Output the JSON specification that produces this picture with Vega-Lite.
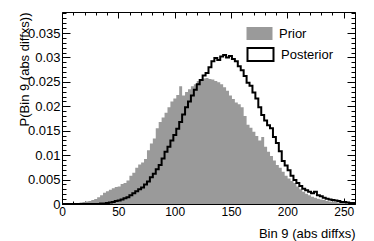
{
  "$schema": "https://vega.github.io/schema/vega-lite/v6.json",
  "width": 293,
  "height": 192,
  "autosize": {"type": "none"},
  "padding": {"left": 62, "top": 12, "right": 19, "bottom": 37},
  "background": "white",
  "config": {
    "view": {"stroke": "black", "strokeWidth": 1},
    "font": "Liberation Sans",
    "axis": {"domain": false, "grid": false, "tickColor": "black", "tickWidth": 1, "labelColor": "black", "titleColor": "black", "labelFont": "Liberation Sans", "titleFont": "Liberation Sans", "titleFontWeight": "normal", "labelOverlap": false, "labelFlush": false}
  },
  "data": {"values": [
    {"lo":0,"Prior":0,"Posterior":0},{"lo":2.6,"Prior":0,"Posterior":0},{"lo":5.2,"Prior":0,"Posterior":0},{"lo":7.8,"Prior":0,"Posterior":0},
    {"lo":10.4,"Prior":0.0001,"Posterior":0},{"lo":13,"Prior":0.0002,"Posterior":0},{"lo":15.6,"Prior":0.0003,"Posterior":0},{"lo":18.2,"Prior":0.0004,"Posterior":0},
    {"lo":20.8,"Prior":0.0005,"Posterior":0},{"lo":23.4,"Prior":0.0006,"Posterior":0},{"lo":26,"Prior":0.0008,"Posterior":0},{"lo":28.6,"Prior":0.001,"Posterior":0},
    {"lo":31.2,"Prior":0.0014,"Posterior":0},{"lo":33.8,"Prior":0.0018,"Posterior":0.0001},{"lo":36.4,"Prior":0.0023,"Posterior":0.0001},{"lo":39,"Prior":0.0026,"Posterior":0.0002},
    {"lo":41.6,"Prior":0.0029,"Posterior":0.0003},{"lo":44.2,"Prior":0.0032,"Posterior":0.0004},{"lo":46.8,"Prior":0.0035,"Posterior":0.0006},{"lo":49.4,"Prior":0.0036,"Posterior":0.0007},
    {"lo":52,"Prior":0.0041,"Posterior":0.0009},{"lo":54.6,"Prior":0.0043,"Posterior":0.0012},{"lo":57.2,"Prior":0.0048,"Posterior":0.0014},{"lo":59.8,"Prior":0.0058,"Posterior":0.0018},
    {"lo":62.4,"Prior":0.0064,"Posterior":0.0022},{"lo":65,"Prior":0.0074,"Posterior":0.0026},{"lo":67.6,"Prior":0.0081,"Posterior":0.003},{"lo":70.2,"Prior":0.0085,"Posterior":0.0034},
    {"lo":72.8,"Prior":0.0092,"Posterior":0.004},{"lo":75.4,"Prior":0.011,"Posterior":0.0046},{"lo":78,"Prior":0.0124,"Posterior":0.0055},{"lo":80.6,"Prior":0.0134,"Posterior":0.0062},
    {"lo":83.2,"Prior":0.0155,"Posterior":0.0071},{"lo":85.8,"Prior":0.0168,"Posterior":0.008},{"lo":88.4,"Prior":0.0177,"Posterior":0.0093},{"lo":91,"Prior":0.0187,"Posterior":0.0107},
    {"lo":93.6,"Prior":0.0198,"Posterior":0.0117},{"lo":96.2,"Prior":0.021,"Posterior":0.013},{"lo":98.8,"Prior":0.0216,"Posterior":0.0141},{"lo":101.4,"Prior":0.0223,"Posterior":0.0154},
    {"lo":104,"Prior":0.0241,"Posterior":0.0168},{"lo":106.6,"Prior":0.0222,"Posterior":0.0183},{"lo":109.2,"Prior":0.0229,"Posterior":0.0198},{"lo":111.8,"Prior":0.0235,"Posterior":0.021},
    {"lo":114.4,"Prior":0.0241,"Posterior":0.0222},{"lo":117,"Prior":0.0245,"Posterior":0.0234},{"lo":119.6,"Prior":0.0252,"Posterior":0.0245},{"lo":122.2,"Prior":0.0255,"Posterior":0.0254},
    {"lo":124.8,"Prior":0.0257,"Posterior":0.0263},{"lo":127.4,"Prior":0.0258,"Posterior":0.0268},{"lo":130,"Prior":0.0256,"Posterior":0.028},{"lo":132.6,"Prior":0.0255,"Posterior":0.0292},
    {"lo":135.2,"Prior":0.0252,"Posterior":0.0299},{"lo":137.8,"Prior":0.0249,"Posterior":0.0295},{"lo":140.4,"Prior":0.0245,"Posterior":0.0302},{"lo":143,"Prior":0.0239,"Posterior":0.0305},
    {"lo":145.6,"Prior":0.0232,"Posterior":0.03},{"lo":148.2,"Prior":0.0222,"Posterior":0.0303},{"lo":150.8,"Prior":0.0215,"Posterior":0.0297},{"lo":153.4,"Prior":0.0208,"Posterior":0.0292},
    {"lo":156,"Prior":0.0204,"Posterior":0.0282},{"lo":158.6,"Prior":0.0198,"Posterior":0.0274},{"lo":161.2,"Prior":0.018,"Posterior":0.0262},{"lo":163.8,"Prior":0.0162,"Posterior":0.0248},
    {"lo":166.4,"Prior":0.0156,"Posterior":0.0242},{"lo":169,"Prior":0.0148,"Posterior":0.0228},{"lo":171.6,"Prior":0.0139,"Posterior":0.0216},{"lo":174.2,"Prior":0.013,"Posterior":0.0198},
    {"lo":176.8,"Prior":0.0137,"Posterior":0.0182},{"lo":179.4,"Prior":0.0117,"Posterior":0.0171},{"lo":182,"Prior":0.0107,"Posterior":0.0161},{"lo":184.6,"Prior":0.0098,"Posterior":0.0155},
    {"lo":187.2,"Prior":0.0089,"Posterior":0.0137},{"lo":189.8,"Prior":0.008,"Posterior":0.0125},{"lo":192.4,"Prior":0.0074,"Posterior":0.0108},{"lo":195,"Prior":0.0066,"Posterior":0.0088},
    {"lo":197.6,"Prior":0.0058,"Posterior":0.0079},{"lo":200.2,"Prior":0.0052,"Posterior":0.0069},{"lo":202.8,"Prior":0.0047,"Posterior":0.0058},{"lo":205.4,"Prior":0.0043,"Posterior":0.0049},
    {"lo":208,"Prior":0.0036,"Posterior":0.0043},{"lo":210.6,"Prior":0.003,"Posterior":0.0037},{"lo":213.2,"Prior":0.0025,"Posterior":0.0031},{"lo":215.8,"Prior":0.0021,"Posterior":0.0028},
    {"lo":218.4,"Prior":0.0018,"Posterior":0.0025},{"lo":221,"Prior":0.0015,"Posterior":0.0022},{"lo":223.6,"Prior":0.0013,"Posterior":0.0025},{"lo":226.2,"Prior":0.0011,"Posterior":0.0018},
    {"lo":228.8,"Prior":0.0009,"Posterior":0.0016},{"lo":231.4,"Prior":0.0008,"Posterior":0.0013},{"lo":234,"Prior":0.0006,"Posterior":0.0011},{"lo":236.6,"Prior":0.0005,"Posterior":0.0009},
    {"lo":239.2,"Prior":0.0004,"Posterior":0.0008},{"lo":241.8,"Prior":0.0004,"Posterior":0.0007},{"lo":244.4,"Prior":0.0003,"Posterior":0.0006},{"lo":247,"Prior":0.0002,"Posterior":0.0004},
    {"lo":249.6,"Prior":0.0002,"Posterior":0.0004},{"lo":252.2,"Prior":0.0001,"Posterior":0.0003},{"lo":254.8,"Prior":0.0001,"Posterior":0.0002},{"lo":257.4,"Prior":0.0001,"Posterior":0.0002},
    {"lo":260,"Prior":0.0001,"Posterior":0.0002}
  ]},
  "transform": [{"fold": ["Prior", "Posterior"], "as": ["series", "p"]}],
  "layer": [
    {
      "transform": [{"filter": "datum.series === 'Prior'"}],
      "mark": {"type": "area", "interpolate": "step-after", "opacity": 1},
      "encoding": {
        "x": {"field": "lo", "type": "quantitative", "scale": {"domain": [0, 260], "nice": false, "zero": false},
          "axis": {"orient": "bottom", "title": "Bin 9 (abs diffxs)", "titleFontSize": 13, "titleAnchor": "end", "titleAlign": "right", "titleBaseline": "alphabetic", "titleX": 293, "titleY": 33,
            "values": [0,10,20,30,40,50,60,70,80,90,100,110,120,130,140,150,160,170,180,190,200,210,220,230,240,250,260],
            "tickSize": {"condition": {"test": "datum.value % 50 === 0", "value": -6}, "value": -3},
            "labelExpr": "datum.value % 50 === 0 ? datum.label : ''", "labelFontSize": 12, "labelPadding": 8}},
        "y": {"field": "p", "type": "quantitative", "stack": null, "scale": {"domain": [0, 0.0393], "nice": false},
          "axis": {"orient": "left", "title": "P(Bin 9 (abs diffxs))", "titleFontSize": 13, "titleAngle": -90, "titleAlign": "right", "titleBaseline": "alphabetic", "titleX": -34, "titleY": 0,
            "values": [0,0.001,0.002,0.003,0.004,0.005,0.006,0.007,0.008,0.009,0.01,0.011,0.012,0.013,0.014,0.015,0.016,0.017,0.018,0.019,0.02,0.021,0.022,0.023,0.024,0.025,0.026,0.027,0.028,0.029,0.03,0.031,0.032,0.033,0.034,0.035,0.036,0.037,0.038,0.039],
            "tickSize": {"condition": {"test": "round(datum.value*1000) % 5 === 0", "value": -8}, "value": -4},
            "labelExpr": "round(datum.value*1000) % 5 === 0 ? format(datum.value, '~g') : ''", "labelFontSize": 13, "labelPadding": 10}},
        "fill": {"field": "series", "type": "nominal", "scale": {"domain": ["Prior"], "range": ["#9a9a9a"]},
          "legend": {"orient": "none", "legendX": 191, "legendY": 15, "title": null, "symbolType": "M-2,-1H2V1H-2Z", "symbolSize": 169, "labelFontSize": 13, "labelFont": "Liberation Sans", "labelColor": "black", "labelOffset": 13, "symbolStrokeWidth": 0, "symbolOpacity": 1}}
      }
    },
    {
      "transform": [{"filter": "datum.series === 'Posterior'"}],
      "mark": {"type": "line", "interpolate": "step-after", "strokeWidth": 2},
      "encoding": {
        "x": {"field": "lo", "type": "quantitative",
          "axis": {"orient": "top", "title": null, "labels": false,
            "values": [0,10,20,30,40,50,60,70,80,90,100,110,120,130,140,150,160,170,180,190,200,210,220,230,240,250,260],
            "tickSize": {"condition": {"test": "datum.value % 50 === 0", "value": -6}, "value": -3}}},
        "y": {"field": "p", "type": "quantitative",
          "axis": {"orient": "right", "title": null, "labels": false,
            "values": [0,0.001,0.002,0.003,0.004,0.005,0.006,0.007,0.008,0.009,0.01,0.011,0.012,0.013,0.014,0.015,0.016,0.017,0.018,0.019,0.02,0.021,0.022,0.023,0.024,0.025,0.026,0.027,0.028,0.029,0.03,0.031,0.032,0.033,0.034,0.035,0.036,0.037,0.038,0.039],
            "tickSize": {"condition": {"test": "round(datum.value*1000) % 5 === 0", "value": -8}, "value": -4}}},
        "stroke": {"field": "series", "type": "nominal", "scale": {"domain": ["Posterior"], "range": ["black"]},
          "legend": {"orient": "none", "legendX": 191, "legendY": 35, "title": null, "symbolType": "M-2,-1H2V1H-2Z", "symbolSize": 169, "labelFontSize": 13, "labelFont": "Liberation Sans", "labelColor": "black", "labelOffset": 13, "symbolStrokeWidth": 2, "symbolFillColor": "white", "symbolOpacity": 1}}
      }
    }
  ],
  "resolve": {"axis": {"x": "independent", "y": "independent"}}
}
